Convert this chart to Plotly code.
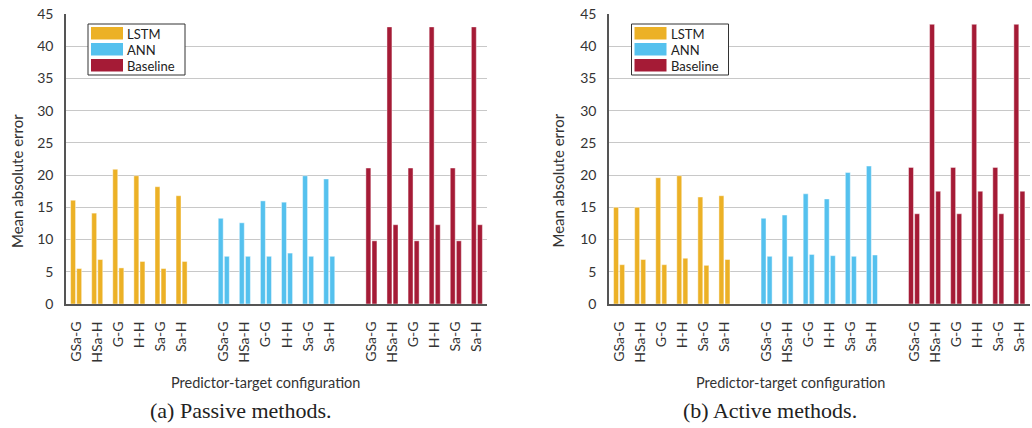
import plotly.graph_objects as go

W, H = 1032, 428

categories = ["GSa-G", "HSa-H", "G-G", "H-H", "Sa-G", "Sa-H"]
methods = ["LSTM", "ANN", "Baseline"]
colors = {"LSTM": "#ECB126", "ANN": "#55C1EE", "Baseline": "#A51B36"}

# Passive methods: first (left) and second (right) bar of each pair
lstm_passive_a = [16.1, 14.1, 20.9, 19.9, 18.2, 16.8]
lstm_passive_b = [5.5, 6.9, 5.6, 6.6, 5.5, 6.6]
ann_passive_a = [13.3, 12.6, 16.0, 15.8, 19.9, 19.4]
ann_passive_b = [7.4, 7.4, 7.4, 7.9, 7.4, 7.4]
base_passive_a = [21.1, 43.0, 21.1, 43.0, 21.1, 43.0]
base_passive_b = [9.8, 12.3, 9.8, 12.3, 9.8, 12.3]

# Active methods
lstm_active_a = [15.0, 15.0, 19.6, 19.9, 16.6, 16.8]
lstm_active_b = [6.1, 6.9, 6.1, 7.1, 6.0, 6.9]
ann_active_a = [13.3, 13.8, 17.1, 16.3, 20.4, 21.4]
ann_active_b = [7.4, 7.4, 7.7, 7.5, 7.4, 7.6]
base_active_a = [21.2, 43.4, 21.2, 43.4, 21.2, 43.4]
base_active_b = [14.0, 17.5, 14.0, 17.5, 14.0, 17.5]

y_ticks = [0, 5, 10, 15, 20, 25, 30, 35, 40, 45]
y_title = "Mean absolute error"
x_title = "Predictor-target configuration"
captions = ["(a) Passive methods.", "(b) Active methods."]

panels = [
    {"LSTM": (lstm_passive_a, lstm_passive_b), "ANN": (ann_passive_a, ann_passive_b),
     "Baseline": (base_passive_a, base_passive_b)},
    {"LSTM": (lstm_active_a, lstm_active_b), "ANN": (ann_active_a, ann_active_b),
     "Baseline": (base_active_a, base_active_b)},
]

FONT = "Lato"
TXT = "#333333"


def px(x):
    return x / W


def py(y):
    return 1 - y / H


# layout geometry (pixels)
plot_top, plot_bot = 14, 304
x_doms_px = [(66, 487), (609, 1029.5)]
legend_px = [(88, 24), (631.5, 24)]
ytitle_x = [17, 557.5]
xtitle_cx = [265, 790]
caption_cx = [240, 770]

fig = go.Figure()

slot_gap = 7
bar_w = 0.235
tickvals, ticktext = [], []
for g, m in enumerate(methods):
    for c, cat in enumerate(categories):
        tickvals.append(g * slot_gap + c)
        ticktext.append(cat)

for p, panel in enumerate(panels):
    xa = "x" if p == 0 else "x2"
    ya = "y" if p == 0 else "y2"
    for g, m in enumerate(methods):
        xs = [g * slot_gap + c for c in range(len(categories))]
        a, b = panel[m]
        for vals, off in ((a, -0.262), (b, 0.027)):
            fig.add_trace(go.Bar(
                x=xs, y=vals, width=bar_w, offset=off, xaxis=xa, yaxis=ya,
                marker=dict(color=colors[m], line=dict(color="rgba(255,255,255,0.55)", width=0.8)),
                name=m, showlegend=False, hoverinfo="x+y"))

ax_common = dict(
    range=[-0.48, 19.48], tickmode="array", tickvals=tickvals, ticktext=ticktext,
    tickangle=-90, tickfont=dict(family=FONT, size=14, color=TXT),
    showgrid=False, zeroline=False, showline=True, linecolor="#555555", linewidth=2,
    ticks="", ticklabelstandoff=10, automargin=False, fixedrange=True,
)
ay_common = dict(
    range=[0, 45], tickmode="array", tickvals=y_ticks,
    tickfont=dict(family=FONT, size=14, color=TXT),
    showgrid=True, gridcolor="#C8C8C8", gridwidth=1.3, zeroline=False,
    showline=True, linecolor="#555555", linewidth=1.5, ticks="",
    ticklabelstandoff=8, automargin=False, fixedrange=True,
    domain=[py(plot_bot), py(plot_top)],
)

fig.update_layout(
    width=W, height=H, margin=dict(l=0, r=0, t=0, b=0),
    paper_bgcolor="white", plot_bgcolor="white", barmode="overlay",
    showlegend=False,
    xaxis=dict(ax_common, domain=[px(x_doms_px[0][0]), px(x_doms_px[0][1])], anchor="y"),
    xaxis2=dict(ax_common, domain=[px(x_doms_px[1][0]), px(x_doms_px[1][1])], anchor="y2"),
    yaxis=dict(ay_common, anchor="x"),
    yaxis2=dict(ay_common, anchor="x2"),
)

shapes, annotations = [], []
for p in range(2):
    lx, ly = legend_px[p]
    # legend box
    shapes.append(dict(type="rect", xref="paper", yref="paper",
                       x0=px(lx), x1=px(lx + 97), y0=py(ly), y1=py(ly + 51),
                       line=dict(color="#333333", width=1), fillcolor="white", layer="above"))
    for i, m in enumerate(methods):
        sy = ly + 3 + i * 16
        shapes.append(dict(type="rect", xref="paper", yref="paper",
                           x0=px(lx + 3), x1=px(lx + 35), y0=py(sy), y1=py(sy + 12.5),
                           line=dict(width=0), fillcolor=colors[m], layer="above"))
        annotations.append(dict(text=m, xref="paper", yref="paper", x=px(lx + 37), y=py(sy + 6.5),
                                xanchor="left", yanchor="middle", showarrow=False,
                                font=dict(family=FONT, size=13, color="#222222")))
    annotations.append(dict(text=y_title, xref="paper", yref="paper", x=px(ytitle_x[p]), y=py(181),
                            xanchor="center", yanchor="middle", textangle=-90, showarrow=False,
                            font=dict(family=FONT, size=15, color=TXT)))
    annotations.append(dict(text=x_title, xref="paper", yref="paper", x=px(xtitle_cx[p]), y=py(382),
                            xanchor="center", yanchor="middle", showarrow=False,
                            font=dict(family=FONT, size=14.5, color=TXT)))
    annotations.append(dict(text=captions[p], xref="paper", yref="paper", x=px(caption_cx[p]), y=py(410),
                            xanchor="center", yanchor="middle", showarrow=False,
                            font=dict(family="Liberation Serif", size=22, color="#222222")))

fig.update_layout(shapes=shapes, annotations=annotations)
fig.write_html("out.html", config={"displayModeBar": False},
               post_script="document.body.style.margin='0';document.body.style.overflow='hidden';")
